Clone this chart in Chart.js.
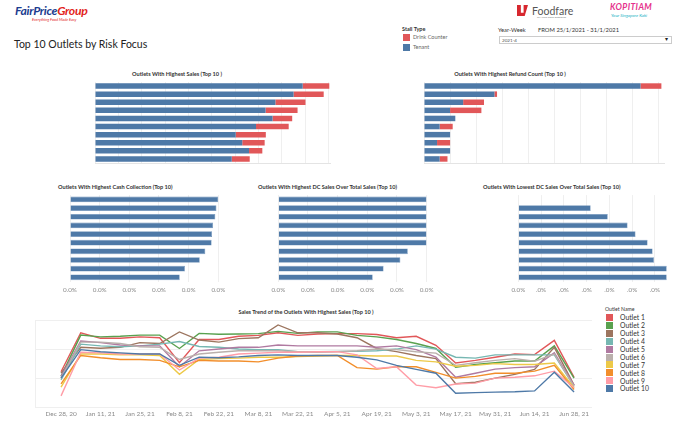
<!DOCTYPE html>
<html>
<head>
<meta charset="utf-8">
<script src="https://cdn.jsdelivr.net/npm/chart.js@4.4.0/dist/chart.umd.min.js"></script>
<style>
  body { margin: 0; width: 700px; height: 431px; background: #fff; position: relative; overflow: hidden;
         font-family: Lato, 'Open Sans', sans-serif; }
  .abs { position: absolute; white-space: nowrap; line-height: 1; }
  canvas { position: absolute; }
  .ctitle { position: absolute; white-space: nowrap; line-height: 1; font-size: 5.6px; font-weight: bold; color: #333; }
  .sw { position: absolute; width: 7px; height: 7px; }
  .leg { position: absolute; white-space: nowrap; line-height: 1; font-size: 6.8px; color: #333; }
</style>
</head>
<body>

<!-- header -->
<div class="abs" style="left:15px;top:5px;font-size:12.2px;font-weight:bold;font-style:italic;letter-spacing:-0.3px;">
  <span style="color:#1c3d8f">FairPrice</span><span style="color:#e2231a">Group</span>
</div>
<div class="abs" style="left:32px;top:17.5px;font-size:3.9px;color:#e2231a;font-style:italic;">Everything Food Made Easy</div>
<div class="abs" style="left:14px;top:39px;font-size:10.5px;color:#222;">Top 10 Outlets by Risk Focus</div>

<div class="abs" style="left:402px;top:26.5px;font-size:5.5px;color:#333;font-weight:bold;">Stall Type</div>
<div class="sw" style="left:403px;top:34px;background:#e15759;"></div>
<div class="abs" style="left:413px;top:35px;font-size:5.5px;color:#666;">Drink Counter</div>
<div class="sw" style="left:403px;top:44px;background:#4e79a7;"></div>
<div class="abs" style="left:413px;top:45px;font-size:5.5px;color:#666;">Tenant</div>

<div class="abs" style="left:498px;top:26.5px;font-size:5.8px;color:#333;">Year-Week</div>
<div class="abs" style="left:538px;top:26.5px;font-size:5.8px;color:#333;">FROM 25/1/2021 - 31/1/2021</div>
<div class="abs" style="left:499px;top:35.5px;width:173px;height:8px;border:1px solid #ccc;box-sizing:border-box;"></div>
<div class="abs" style="left:502px;top:38px;font-size:4.6px;color:#555;">2021-4</div>
<div class="abs" style="left:665px;top:37px;font-size:5.5px;color:#222;">&#9662;</div>

<div class="abs" style="left:517px;top:5px;width:11px;height:11px;background:#d7282f;clip-path:polygon(0 0,35% 0,35% 70%,60% 70%,60% 0,100% 0,70% 100%,0 100%);"></div>
<div class="abs" style="left:532px;top:6px;font-size:10.5px;color:#555;">Foodfare</div>
<div class="abs" style="left:537px;top:17px;font-size:2.5px;color:#777;">an NTUC Social Enterprise</div>

<div class="abs" style="left:610px;top:3px;font-size:8.5px;font-weight:bold;font-style:italic;color:#e5318b;letter-spacing:0.4px;">KOPITIAM</div>
<div class="abs" style="left:611px;top:13.5px;font-size:4.4px;font-style:italic;color:#22b2c4;">Your Singapore Kaki</div>

<!-- chart titles -->
<div class="ctitle" style="left:100px;width:154px;top:70.5px;text-align:center;">Outlets With Highest Sales (Top 10 )</div>
<div class="ctitle" style="left:433px;width:154px;top:70.5px;text-align:center;">Outlets With Highest Refund Count (Top 10 )</div>
<div class="ctitle" style="left:58px;top:183.5px;">Outlets With Highest Cash Collection (Top 10)</div>
<div class="ctitle" style="left:258px;top:183.5px;">Outlets With Highest DC Sales Over Total Sales (Top 10)</div>
<div class="ctitle" style="left:483px;top:183.5px;">Outlets With Lowest DC Sales Over Total Sales (Top 10)</div>
<div class="ctitle" style="left:206px;width:200px;top:308.5px;text-align:center;">Sales Trend of the Outlets With Highest Sales (Top 10 )</div>

<canvas id="salesChart" width="246" height="88" style="left:90px;top:79px;"></canvas>
<canvas id="refundChart" width="250" height="88" style="left:419px;top:79px;"></canvas>
<canvas id="cashChart" width="175" height="110" style="left:55px;top:190px;"></canvas>
<canvas id="dcHighChart" width="175" height="110" style="left:263px;top:190px;"></canvas>
<canvas id="dcLowChart" width="180" height="110" style="left:503px;top:190px;"></canvas>
<canvas id="trendChart" width="557" height="103" style="left:35px;top:318px;"></canvas>

<div id="legend"></div>

<script>
// ranks of the top 10 outlets (bar chart categories)
const ranks = ['1', '2', '3', '4', '5', '6', '7', '8', '9', '10'];

// Outlets With Highest Sales - tenant / drink counter
const salesTenant = [89, 85.1, 77.3, 73.1, 76.1, 69, 60.3, 63.1, 66, 58.6];
const salesDrink = [11.4, 12.9, 12.9, 13.7, 8.4, 14, 12.9, 9.6, 5.7, 7.7];

// Outlets With Highest Refund Count
const refundTenant = [83, 27, 15, 10, 12, 6, 10, 5, 10, 6];
const refundDrink = [8, 1, 8, 12, 0, 5, 0, 5, 0, 3];

// percentages (tiny values, all shown as 0.0%)
const cashCollection = [0.04, 0.0395, 0.0392, 0.0386, 0.0383, 0.0382, 0.0365, 0.035, 0.031, 0.0296];
const dcHighest = [0.03, 0.03, 0.03, 0.03, 0.03, 0.03, 0.0262, 0.0247, 0.0213, 0.0191];
const dcLowest = [0, 0.0159, 0.01965, 0.024, 0.02575, 0.0284, 0.0295, 0.0298, 0.0326, 0.0326];

// Sales trend, weekly
const weekLabels = ['Dec 28, 20', 'Jan 4, 21', 'Jan 11, 21', 'Jan 18, 21', 'Jan 25, 21', 'Feb 1, 21', 'Feb 8, 21',
    'Feb 15, 21', 'Feb 22, 21', 'Mar 1, 21', 'Mar 8, 21', 'Mar 15, 21', 'Mar 22, 21', 'Mar 29, 21', 'Apr 5, 21',
    'Apr 12, 21', 'Apr 19, 21', 'Apr 26, 21', 'May 3, 21', 'May 10, 21', 'May 17, 21', 'May 24, 21', 'May 31, 21',
    'Jun 7, 21', 'Jun 14, 21', 'Jun 21, 21', 'Jun 28, 21'];
const outletNames = ['Outlet 1', 'Outlet 2', 'Outlet 3', 'Outlet 4', 'Outlet 5', 'Outlet 6', 'Outlet 7', 'Outlet 8', 'Outlet 9', 'Outlet 10'];
const outlet1 = [122, 256, 237, 237, 242, 239, 153, 233, 233, 244, 247, 256, 247, 252, 253, 253, 250, 239, 244, 213, 152, 161, 172, 183, 181, 230, 103];
const outlet2 = [106, 248, 242, 244, 248, 248, 202, 254, 251, 252, 253, 261, 254, 259, 259, 247, 242, 233, 219, 202, 137, 147, 153, 159, 159, 211, 100];
const outlet3 = [117, 206, 203, 206, 222, 219, 259, 231, 224, 236, 239, 283, 256, 256, 252, 239, 202, 191, 178, 167, 81, 86, 100, 113, 130, 206, 76];
const outlet4 = [94, 217, 211, 208, 211, 217, 226, 209, 206, 200, 198, 198, 191, 191, 192, 192, 194, 200, 211, 200, 172, 169, 180, 180, 180, 180, 72];
const outlet5 = [106, 228, 222, 214, 211, 211, 139, 194, 200, 206, 206, 214, 211, 211, 211, 211, 206, 211, 198, 172, 103, 117, 131, 136, 139, 187, 76];
const outlet6 = [100, 224, 224, 219, 208, 206, 164, 183, 189, 194, 194, 194, 191, 189, 191, 194, 200, 198, 191, 186, 144, 153, 161, 167, 158, 183, 72];
const outlet7 = [69, 183, 183, 180, 180, 178, 113, 164, 167, 169, 172, 172, 174, 176, 178, 178, 176, 176, 161, 156, 141, 144, 150, 147, 147, 152, 67];
const outlet8 = [80, 178, 170, 164, 164, 161, 139, 161, 159, 159, 156, 169, 176, 178, 178, 136, 131, 139, 139, 120, 100, 106, 117, 117, 124, 144, 61];
const outlet9 = [39, 189, 187, 183, 183, 183, 128, 169, 172, 183, 186, 189, 189, 191, 191, 180, 133, 139, 76, 67, 80, 83, 100, 103, 108, 124, 67];
const outlet10 = [100, 198, 191, 187, 183, 183, 144, 172, 170, 173, 178, 180, 178, 178, 178, 172, 163, 144, 130, 117, 48, 50, 52, 53, 56, 120, 52];
const outletColors = ['#e15759', '#59a14f', '#9c755f', '#76b7b2', '#b07aa1', '#bab0ac', '#edc948', '#f28e2b', '#ff9da7', '#4e79a7'];

const TENANT = '#4e79a7';
const DRINK = '#e15759';
const GRID = '#efefef';

function fixedTicks(step, count) {
    return axis => {
        axis.ticks = [];
        for (let k = 0; k < count; k++) axis.ticks.push({ value: k * step });
    };
}

function stackedBar(id, tenant, drink, max, step, pad) {
    new Chart(document.getElementById(id), {
        type: 'bar',
        data: {
            labels: ranks,
            datasets: [
                { label: 'Tenant', data: tenant, backgroundColor: TENANT, barPercentage: 0.68, categoryPercentage: 1 },
                { label: 'Drink Counter', data: drink, backgroundColor: DRINK, barPercentage: 0.68, categoryPercentage: 1 }
            ]
        },
        options: {
            indexAxis: 'y',
            responsive: false,
            animation: false,
            layout: { padding: pad },
            plugins: { legend: { display: false }, tooltip: { enabled: false } },
            scales: {
                x: {
                    stacked: true, min: 0, max: max,
                    afterBuildTicks: fixedTicks(step, Math.floor(max / step) + 1),
                    ticks: { display: false },
                    grid: { color: GRID, drawTicks: false },
                    border: { display: true, color: '#e4e4e4' }
                },
                y: { stacked: true, display: false }
            }
        }
    });
}

function pctBar(id, values, max, step, count, pad, labelFn) {
    new Chart(document.getElementById(id), {
        type: 'bar',
        data: {
            labels: ranks,
            datasets: [{ data: values, backgroundColor: TENANT, borderColor: '#6f93bb', borderWidth: 0.6,
                barPercentage: 0.66, categoryPercentage: 1 }]
        },
        options: {
            indexAxis: 'y',
            responsive: false,
            animation: false,
            layout: { padding: pad },
            plugins: { legend: { display: false }, tooltip: { enabled: false } },
            scales: {
                x: {
                    min: 0, max: max,
                    afterBuildTicks: fixedTicks(step, count),
                    ticks: { color: '#8a8a8a', font: { size: 6.3, family: 'Lato' }, padding: 4.5, maxRotation: 0,
                             autoSkip: false, callback: labelFn },
                    grid: { color: GRID, drawTicks: false },
                    border: { display: false }
                },
                y: { display: false }
            }
        }
    });
}

stackedBar('salesChart', salesTenant, salesDrink, 101, 10, { left: 5, right: 5.3, top: 3, bottom: 4 });
stackedBar('refundChart', refundTenant, refundDrink, 92, 10, { left: 5, right: 5, top: 3, bottom: 4 });

const pct = v => v.toFixed(1) + '%';
pctBar('cashChart', cashCollection, 0.04, 0.008, 6, { left: 15, right: 11.7, top: 5.1, bottom: 1.8 }, pct);
pctBar('dcHighChart', dcHighest, 0.03, 0.006, 6, { left: 15.3, right: 11.3, top: 5.1, bottom: 1.8 }, pct);
pctBar('dcLowChart', dcLowest, 0.03275, 0.005, 7, { left: 15.3, right: 15.6, top: 5.1, bottom: 1.8 },
    (v, i) => i === 0 ? '0.0%' : '.0%');

// sales trend
const outletSeries = [outlet1, outlet2, outlet3, outlet4, outlet5, outlet6, outlet7, outlet8, outlet9, outlet10];
new Chart(document.getElementById('trendChart'), {
    type: 'line',
    data: {
        datasets: outletSeries.map((series, i) => ({
            label: outletNames[i],
            data: series.map((v, w) => ({ x: w, y: v })),
            borderColor: outletColors[i],
            borderWidth: 1.4,
            pointRadius: 0,
            tension: 0
        })).reverse()
    },
    options: {
        responsive: false,
        animation: false,
        layout: { padding: { top: 2, left: 0, right: 0, bottom: 0 } },
        plugins: { legend: { display: false }, tooltip: { enabled: false } },
        scales: {
            x: {
                type: 'linear', min: -1.32, max: 26.91,
                afterBuildTicks: axis => {
                    axis.ticks = weekLabels.map((_, w) => ({ value: w })).filter(t => t.value % 2 === 0);
                },
                ticks: { color: '#8a8a8a', font: { size: 6.5, family: 'Lato' }, padding: 3, maxRotation: 0, autoSkip: false,
                         callback: v => weekLabels[v] },
                grid: { display: false, drawTicks: false },
                border: { display: false }
            },
            y: {
                min: 0, max: 300,
                afterBuildTicks: fixedTicks(100, 4),
                ticks: { display: false },
                grid: { color: GRID, drawTicks: false },
                border: { display: true, color: GRID }
            }
        }
    }
});

// outlet legend
const legend = document.getElementById('legend');
let html = '<div class="abs" style="left:605px;top:306.5px;font-size:5.2px;color:#333;">Outlet Name</div>';
outletNames.forEach((name, i) => {
    const y = 314 + i * 7.9;
    html += `<div class="sw" style="left:606px;top:${y}px;background:${outletColors[i]};"></div>`;
    html += `<div class="leg" style="left:620px;top:${y + 0.3}px;">${name}</div>`;
});
legend.innerHTML = html;
</script>
</body>
</html>
